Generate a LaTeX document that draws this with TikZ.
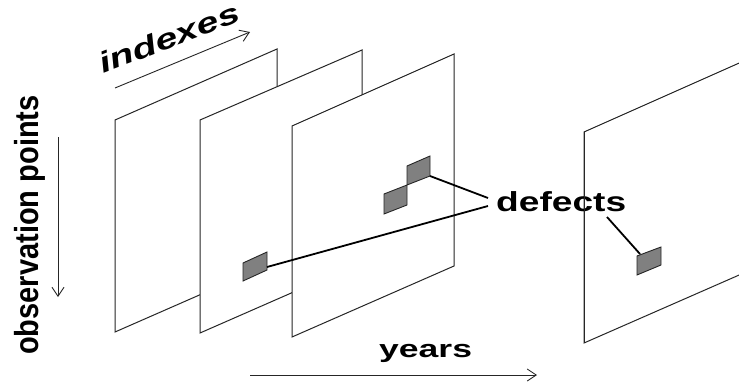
\documentclass[tikz,border=0pt]{standalone}
\usepackage{fontspec}
\setmainfont{Liberation Sans}
\usetikzlibrary{arrows.meta,calc}

\begin{document}
\begin{tikzpicture}[x=1pt,y=-1pt,
  panel/.style={draw=black!85, line width=1pt, fill=white, line join=miter},
  defect/.style={draw=black!85, line width=0.9pt, fill=black!50},
  leader/.style={draw=black, line width=1.8pt},
  axis/.style={draw=black!85, line width=0.9pt, -{Straight Barb[length=9pt,width=12pt]}},
  lbl/.style={inner sep=0pt, text=black}
]
\useasboundingbox (0,0) rectangle (739,383);
\fill[white] (0,0) rectangle (739,383);

% stacked sheets, back to front
\draw[panel] (115,120) -- (277,49) -- (277,261) -- (115,332) -- cycle;
\draw[panel] (200,120) -- (362,50) -- (362,262) -- (200,333) -- cycle;
\draw[panel] (292,126) -- (454,54) -- (454,266) -- (292,337) -- cycle;
\begin{scope}
  \clip (0,0) rectangle (739,383);
  \draw[panel] (584,132) -- (746,60) -- (746,272) -- (584,343) -- cycle;
\end{scope}

% defect patches
\draw[defect] (243,263) -- (267,252) -- (267,270) -- (243,281) -- cycle;
\draw[defect] (407,166) -- (430,156) -- (430,176) -- (407,185) -- cycle;
\draw[defect] (384,194) -- (407,185) -- (407,205) -- (384,214) -- cycle;
\draw[defect] (637,256) -- (661,247) -- (661,265) -- (637,275) -- cycle;

\coordinate (dA) at (267,267);
\coordinate (dB) at (430,176);
\coordinate (dC) at (640,254);

% labels
\node[lbl, anchor=base west, font=\bfseries\fontsize{27.5}{27.5}\selectfont]
  (deflabel) at (496,211) {\scalebox{1.35}[1]{defects}};
\coordinate (tipB) at (488,198);
\coordinate (tipA) at (488,206);
\coordinate (tipC) at (607,217);

\draw[leader] (dB) -- (tipB);
\draw[leader] (dA) -- (tipA);
\draw[leader] (tipC) -- (dC);

% front edge of the last sheet over the label
\draw[panel, fill=none] (584,132) -- (584,343);

\node[lbl, anchor=base west, font=\bfseries\fontsize{24.5}{24.5}\selectfont]
  (years) at (379,357) {\scalebox{1.45}[1]{years}};
\node[lbl, anchor=base west, rotate=21, font=\bfseries\itshape\fontsize{28.5}{28.5}\selectfont]
  (idx) at (103,74) {\scalebox{1.4}[1]{indexes}};
\node[lbl, anchor=base west, rotate=90, font=\bfseries\fontsize{29}{29}\selectfont]
  (obs) at (38,355) {\scalebox{1}[1.15]{observation points}};

% axis arrows
\coordinate (yS) at (250,375);
\coordinate (yE) at (537,375);
\coordinate (iS) at (115,88);
\coordinate (iE) at (250,32);
\coordinate (oS) at (58,137);
\coordinate (oE) at (58,297);
\draw[axis] (yS) -- (yE);
\draw[axis] (iS) -- (iE);
\draw[axis] (oS) -- (oE);
\end{tikzpicture}
\end{document}
